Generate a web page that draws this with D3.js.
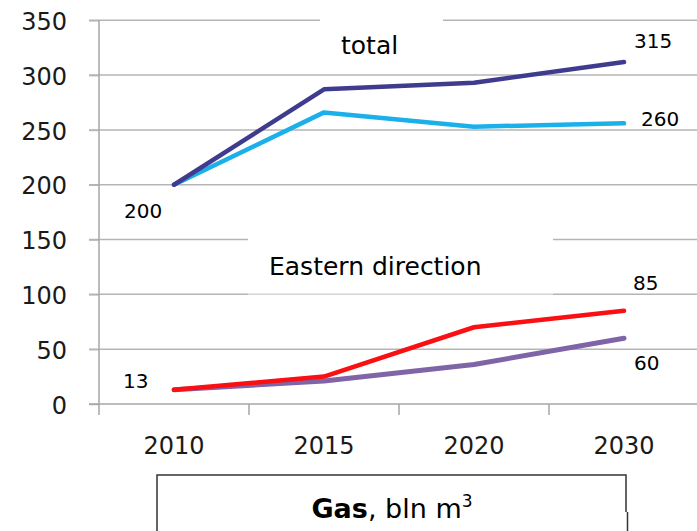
<!DOCTYPE html>
<html>
<head>
<meta charset="utf-8">
<script src="https://cdn.jsdelivr.net/npm/d3@7/dist/d3.min.js"></script>
<style>
html,body{margin:0;padding:0;background:#fff;}
svg{display:block;}
text{font-family:"DejaVu Sans",sans-serif;}
</style>
</head>
<body>
<svg id="chart" width="697" height="531"></svg>
<script>
const categories = ["2010", "2015", "2020", "2030"];
const totalHigh = [200, 287, 293, 312];
const totalLow = [200, 266, 253, 256];
const eastHigh = [13, 25, 70, 85];
const eastLow = [13, 21, 36, 60];
const yTicks = [0, 50, 100, 150, 200, 250, 300, 350];
const endLabels = ["200", "315", "260", "13", "85", "60"];
const groupLabels = ["total", "Eastern direction"];

const svg = d3.select("#chart");
const x = d3.scaleBand().domain(categories).range([99, 699]);
const y = d3.scaleLinear().domain([0, 350]).range([404, 20.3]);
const cx = c => x(c) + x.bandwidth() / 2;

// gridlines
svg.append("g").selectAll("line").data(yTicks.filter(d => d > 0)).join("line")
  .attr("x1", 89).attr("x2", 697)
  .attr("y1", d => y(d)).attr("y2", d => y(d))
  .attr("stroke", "#b5b5b5").attr("stroke-width", 1.5);

// label backgrounds (cover gridlines)
svg.append("rect").attr("x", 320).attr("y", y(350) - 5).attr("width", 123).attr("height", 40).attr("fill", "#fff");
svg.append("rect").attr("x", 248).attr("y", y(150) - 5).attr("width", 305).attr("height", 40).attr("fill", "#fff");
svg.append("rect").attr("x", 248).attr("y", y(100) - 3).attr("width", 305).attr("height", 6).attr("fill", "#fff").attr("fill-opacity", 0.45);

// y axis
const yAxis = d3.axisLeft(y).tickValues(yTicks).tickSize(10).tickSizeOuter(0);
const gy = svg.append("g").attr("transform", "translate(99,0)").call(yAxis);
gy.select(".domain").remove();
gy.selectAll(".tick line").attr("stroke", "#b5b5b5").attr("stroke-width", 1.5);
gy.selectAll(".tick text").attr("x", -32).attr("dy", "0.38em")
  .attr("font-size", 24).attr("fill", "#1a1a1a").attr("font-family", "DejaVu Sans");
svg.append("line").attr("x1", 99).attr("x2", 99).attr("y1", y(350)).attr("y2", 415)
  .attr("stroke", "#a6a6a6").attr("stroke-width", 1.5);

// x axis
const xAxis = d3.axisBottom(x).tickSize(0).tickSizeOuter(0);
const gx = svg.append("g").attr("transform", "translate(0,404)").call(xAxis);
gx.select(".domain").remove();
gx.selectAll(".tick text").attr("y", 33).attr("dy", "0.71em")
  .attr("font-size", 24).attr("fill", "#1a1a1a").attr("font-family", "DejaVu Sans");
svg.append("line").attr("x1", 89).attr("x2", 697).attr("y1", 404).attr("y2", 404)
  .attr("stroke", "#a6a6a6").attr("stroke-width", 1.5);
svg.append("g").selectAll("line").data(categories.slice(1)).join("line")
  .attr("x1", d => x(d)).attr("x2", d => x(d)).attr("y1", 404).attr("y2", 415)
  .attr("stroke", "#a6a6a6").attr("stroke-width", 1.5);

// lines
const line = d3.line().x((d, i) => cx(categories[i])).y(d => y(d));
const series = [
  {v: totalLow, c: "#1cb0ea", w: 4.5},
  {v: totalHigh, c: "#3f3b8e", w: 4.5},
  {v: eastLow, c: "#8064a8", w: 5},
  {v: eastHigh, c: "#fa0f12", w: 4.5}
];
svg.append("g").selectAll("path").data(series).join("path")
  .attr("d", d => line(d.v)).attr("fill", "none")
  .attr("stroke", d => d.c).attr("stroke-width", d => d.w)
  .attr("stroke-linecap", "round").attr("stroke-linejoin", "round");

// data labels
const lab = [
  {t: endLabels[0], x: 124, y: 218},
  {t: endLabels[1], x: 634, y: 48},
  {t: endLabels[2], x: 641, y: 126},
  {t: endLabels[3], x: 123, y: 388},
  {t: endLabels[4], x: 633, y: 290},
  {t: endLabels[5], x: 634, y: 370}
];
svg.append("g").selectAll("text").data(lab).join("text")
  .attr("x", d => d.x).attr("y", d => d.y).text(d => d.t)
  .attr("font-size", 20).attr("fill", "#000");

// group labels
svg.append("text").attr("x", 341).attr("y", 54).attr("font-size", 25).attr("fill", "#000").text(groupLabels[0]);
svg.append("text").attr("x", 269).attr("y", 275).attr("font-size", 25).attr("fill", "#000").text(groupLabels[1]);

// bottom box
svg.append("path").attr("d", "M157,531 L157,475 L626,475 L626,512")
  .attr("fill", "none").attr("stroke", "#333").attr("stroke-width", 1.5);
svg.append("line").attr("x1", 627.5).attr("x2", 627.5).attr("y1", 512).attr("y2", 531)
  .attr("stroke", "#333").attr("stroke-width", 1.5);
const t = svg.append("text").attr("x", 392).attr("y", 518).attr("text-anchor", "middle")
  .attr("font-size", 27).attr("fill", "#000");
t.append("tspan").attr("font-weight", "bold").text("Gas");
t.append("tspan").text(", bln m");
t.append("tspan").attr("font-size", 17).attr("dy", -11).text("3");
</script>
</body>
</html>
